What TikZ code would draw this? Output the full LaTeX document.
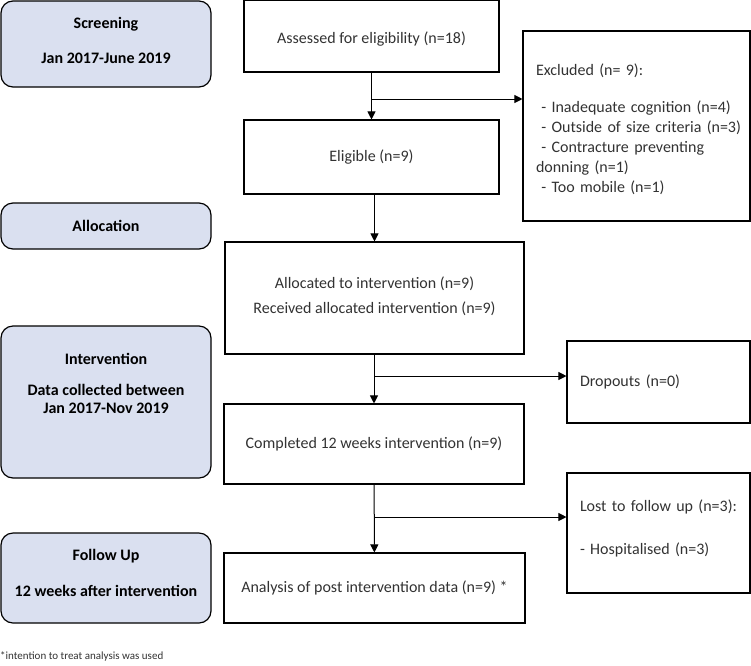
\documentclass[tikz,border=0pt]{standalone}
\usepackage{fontspec}
\setmainfont{Carlito}
\usepackage{xcolor}
\usepackage{tikz}
\usetikzlibrary{arrows.meta, positioning}

\definecolor{stagefill}{RGB}{218,224,240}
\definecolor{boxtext}{RGB}{50,50,50}

\begin{document}
\begin{tikzpicture}[
      x=1pt, y=-1pt,
      >={Triangle[length=8pt, width=8pt]},
      every node/.style={font=\fontsize{16}{20}\selectfont},
      stage/.style={draw, line width=1.2pt, rounded corners=12pt, fill=stagefill,
        minimum width=210pt, inner sep=0pt, align=center,
        font=\fontsize{16}{20}\selectfont\bfseries},
      flowbox/.style={draw, line width=1.1pt, inner sep=0pt, align=center,
        text=boxtext},
      sidebox/.style={draw, line width=1.1pt, inner xsep=13pt, inner ysep=0pt,
        align=left, text=boxtext},
      arr/.style={->, line width=1pt},
    ]

    \useasboundingbox (0,0) rectangle (751,665);

    % stages on the left
    \node[stage, minimum height=86pt] (screen) at (106,44)
      {Screening\\[15pt]Jan 2017-June 2019\\[-12pt]\mbox{}};
    \node[stage, minimum height=46pt] (alloc) at (106,226) {Allocation};
    \node[stage, minimum height=152pt] (interv) at (106,402)
      {Intervention\\[11pt]Data collected between\\[-2pt]Jan 2017-Nov 2019\\[17pt]\mbox{}};
    \node[stage, minimum height=90pt] (follow) at (106,578)
      {Follow Up\\[16pt]12 weeks after intervention\\[-10pt]\mbox{}};

    % main flow
    \node[flowbox, minimum width=255pt, minimum height=72pt] (assess) at (371.5,36)
      {\rule{0pt}{18pt}Assessed for eligibility (n=18)};
    \node[flowbox, minimum width=255pt, minimum height=74pt] (elig) at (371.5,157)
      {Eligible (n=9)};
    \node[flowbox, minimum width=299pt, minimum height=112pt] (given) at (374.5,298)
      {Allocated to intervention (n=9)\\[5pt]Received allocated intervention (n=9)\\[-15pt]\mbox{}};
    \node[flowbox, minimum width=300pt, minimum height=80pt] (complete) at (374,444)
      {Completed 12 weeks intervention (n=9)};
    \node[flowbox, minimum width=301pt, minimum height=70pt] (analysis) at (374.5,588)
      {Analysis of post intervention data (n=9) *};

    % side boxes
    \node[sidebox, text width=201pt, minimum height=190pt] (excl) at (636.5,126)
      {\rule{0pt}{19pt}Excluded (n= 9):\\[17pt]
       \mbox{\ - Inadequate cognition (n=4)}\\
       \mbox{\ - Outside of size criteria (n=3)}\\
       \mbox{\ - Contracture preventing}\\
       donning (n=1)\\
       \mbox{\ - Too mobile (n=1)}};
    \node[sidebox, text width=157pt, minimum height=82pt] (drop) at (658.5,382)
      {Dropouts (n=0)};
    \node[sidebox, text width=157pt, minimum height=120pt] (lost) at (658.5,533)
      {Lost to follow up (n=3):\\[23pt]- Hospitalised (n=3)\\[-8pt]\mbox{}};

    \node[anchor=west, inner sep=0pt, text=boxtext,
      font=\fontsize{11}{13}\selectfont] (note) at (0,656)
      {*intention to treat analysis was used};

    \coordinate (split1) at (371.5,99);
    \coordinate (split2) at (374,376);
    \coordinate (split3) at (374,517);

    \draw[arr] (assess) -- (elig);
    \draw[arr] (split1) -- (split1 -| excl.west);
    \draw[arr] (given.north |- elig.south) -- (given);
    \draw[arr] (given.south -| complete.north) -- (complete);
    \draw[arr] (split2) -- (split2 -| drop.west);
    \draw[arr] (complete) -- (analysis);
    \draw[arr] (split3) -- (split3 -| lost.west);

  \end{tikzpicture}
\end{document}
